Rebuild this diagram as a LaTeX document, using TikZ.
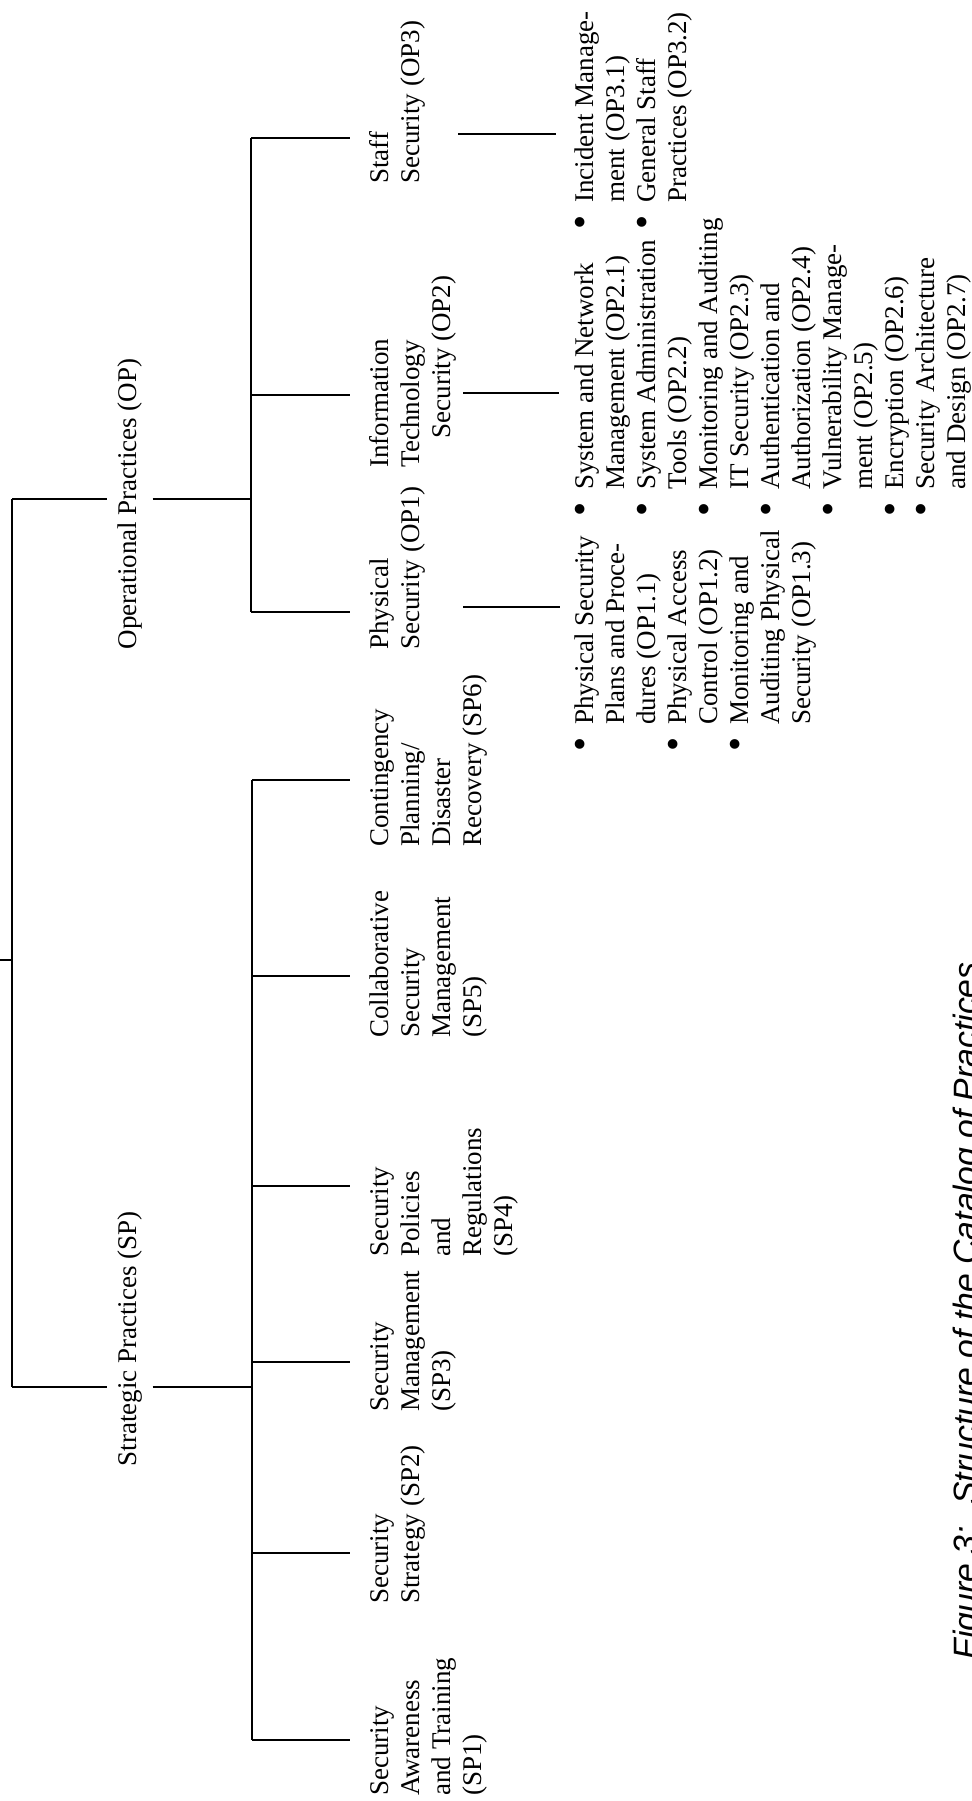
\documentclass[tikz,border=0pt]{standalone}
\usepackage{fontspec}
\setmainfont{Liberation Serif}
\newfontfamily\capfont{Liberation Sans}
\newcommand{\bul}{\scalebox{1.5}{\textbullet}}
\begin{document}
\begin{tikzpicture}[x=0.4444pt,y=-0.4444pt,
  lbl/.style={rotate=90, anchor=base west, inner sep=0pt, font=\fontsize{12}{13.8}\selectfont},
  grp/.style={rotate=90, anchor=center, inner xsep=0pt, inner ysep=4.4pt, font=\fontsize{12}{13.8}\selectfont},
  capt/.style={rotate=90, anchor=base west, inner sep=0pt, font=\capfont\itshape\fontsize{15}{18}\selectfont},
  conn/.style={line width=1pt}]
\useasboundingbox (0,0) rectangle (971,1801);

% ---- group labels
\node[grp] (opl) at (130,504) {Operational Practices (OP)};
\node[grp] (spl) at (130,1339) {Strategic Practices (SP)};

% ---- category labels
\node[lbl] (op3) at (388,184) {\begin{tabular}[t]{@{}l@{}}Staff\\Security (OP3)\end{tabular}};
\node[lbl] (op2) at (388,468) {\begin{tabular}[t]{@{}l@{}}Information\\Technology\\\hspace*{13pt}Security (OP2)\end{tabular}};
\node[lbl] (op1) at (388,650) {\begin{tabular}[t]{@{}l@{}}Physical\\Security (OP1)\end{tabular}};
\node[lbl] (sp6) at (388,847) {\begin{tabular}[t]{@{}l@{}}Contingency\\Planning/\\Disaster\\Recovery (SP6)\end{tabular}};
\node[lbl] (sp5) at (388,1038) {\begin{tabular}[t]{@{}l@{}}Collaborative\\Security\\Management\\(SP5)\end{tabular}};
\node[lbl] (sp4) at (388,1257) {\begin{tabular}[t]{@{}l@{}}Security\\Policies\\and\\Regulations\\(SP4)\end{tabular}};
\node[lbl] (sp3) at (388,1412) {\begin{tabular}[t]{@{}l@{}}Security\\Management\\(SP3)\end{tabular}};
\node[lbl] (sp2) at (388,1604) {\begin{tabular}[t]{@{}l@{}}Security\\Strategy (SP2)\end{tabular}};
\node[lbl] (sp1) at (388,1796) {\begin{tabular}[t]{@{}l@{}}Security\\Awareness\\and Training\\(SP1)\end{tabular}};

% ---- practice lists
\node[lbl] (op3list) at (593,230) {\begin{tabular}[t]{@{}l@{\hspace{5.7pt}}l@{}}
\bul & Incident Manage-\\
 & ment (OP3.1)\\
\bul & General Staff\\
 & Practices (OP3.2)\end{tabular}};
\node[lbl] (op2list) at (593,517) {\begin{tabular}[t]{@{}l@{\hspace{5.7pt}}l@{}}
\bul & System and Network\\
 & Management (OP2.1)\\
\bul & System Administration\\
 & Tools (OP2.2)\\
\bul & Monitoring and Auditing\\
 & IT Security (OP2.3)\\
\bul & Authentication and\\
 & Authorization (OP2.4)\\
\bul & Vulnerability Manage-\\
 & ment (OP2.5)\\
\bul & Encryption (OP2.6)\\
\bul & Security Architecture\\
 & and Design (OP2.7)\end{tabular}};
\node[lbl] (op1list) at (593,752) {\begin{tabular}[t]{@{}l@{\hspace{5.7pt}}l@{}}
\bul & Physical Security\\
 & Plans and Proce-\\
 & dures (OP1.1)\\
\bul & Physical Access\\
 & Control (OP1.2)\\
\bul & Monitoring and\\
 & Auditing Physical\\
 & Security (OP1.3)\end{tabular}};

% ---- caption
\node[capt] (fig) at (977,1660) {Figure 3:};
\node[capt] (cap) at (977,1505) {Structure of the Catalog of Practices};

% ---- tree coordinates
\coordinate (root) at (0,960);
\coordinate (rootj) at (12,960);
\coordinate (mtop) at (12,499);
\coordinate (mbot) at (12,1387);
\coordinate (opj) at (251,499);
\coordinate (spj) at (252,1387);
\coordinate (op3a) at (251,138);  \coordinate (op3b) at (350,138);
\coordinate (op2a) at (251,395);  \coordinate (op2b) at (350,395);
\coordinate (op1a) at (251,612);  \coordinate (op1b) at (350,612);
\coordinate (sp6a) at (252,780);  \coordinate (sp6b) at (350,780);
\coordinate (sp5a) at (252,976);  \coordinate (sp5b) at (350,976);
\coordinate (sp4a) at (252,1186); \coordinate (sp4b) at (350,1186);
\coordinate (sp3a) at (252,1362); \coordinate (sp3b) at (350,1362);
\coordinate (sp2a) at (252,1553); \coordinate (sp2b) at (350,1553);
\coordinate (sp1a) at (252,1740); \coordinate (sp1b) at (350,1740);
\coordinate (l3a) at (458,134); \coordinate (l3b) at (556,134);
\coordinate (l2a) at (463,393); \coordinate (l2b) at (559,393);
\coordinate (l1a) at (463,607); \coordinate (l1b) at (560,607);

% ---- tree lines
\draw[conn] (root) -- (rootj);
\draw[conn] (mtop) -- (mbot);
\draw[conn] (mtop) -- (mtop -| opl.north);
\draw[conn] (opj -| opl.south) -- (opj);
\draw[conn] (mbot) -- (mbot -| spl.north);
\draw[conn] (spj -| spl.south) -- (spj);
\draw[conn] (op3a) -- (op1a);
\draw[conn] (sp6a) -- (sp1a);
\foreach \n in {op3,op2,op1,sp6,sp5,sp4,sp3,sp2,sp1}
  \draw[conn] (\n a) -- (\n b);
\draw[conn] (l3a) -- (l3b);
\draw[conn] (l2a) -- (l2b);
\draw[conn] (l1a) -- (l1b);
\end{tikzpicture}
\end{document}
